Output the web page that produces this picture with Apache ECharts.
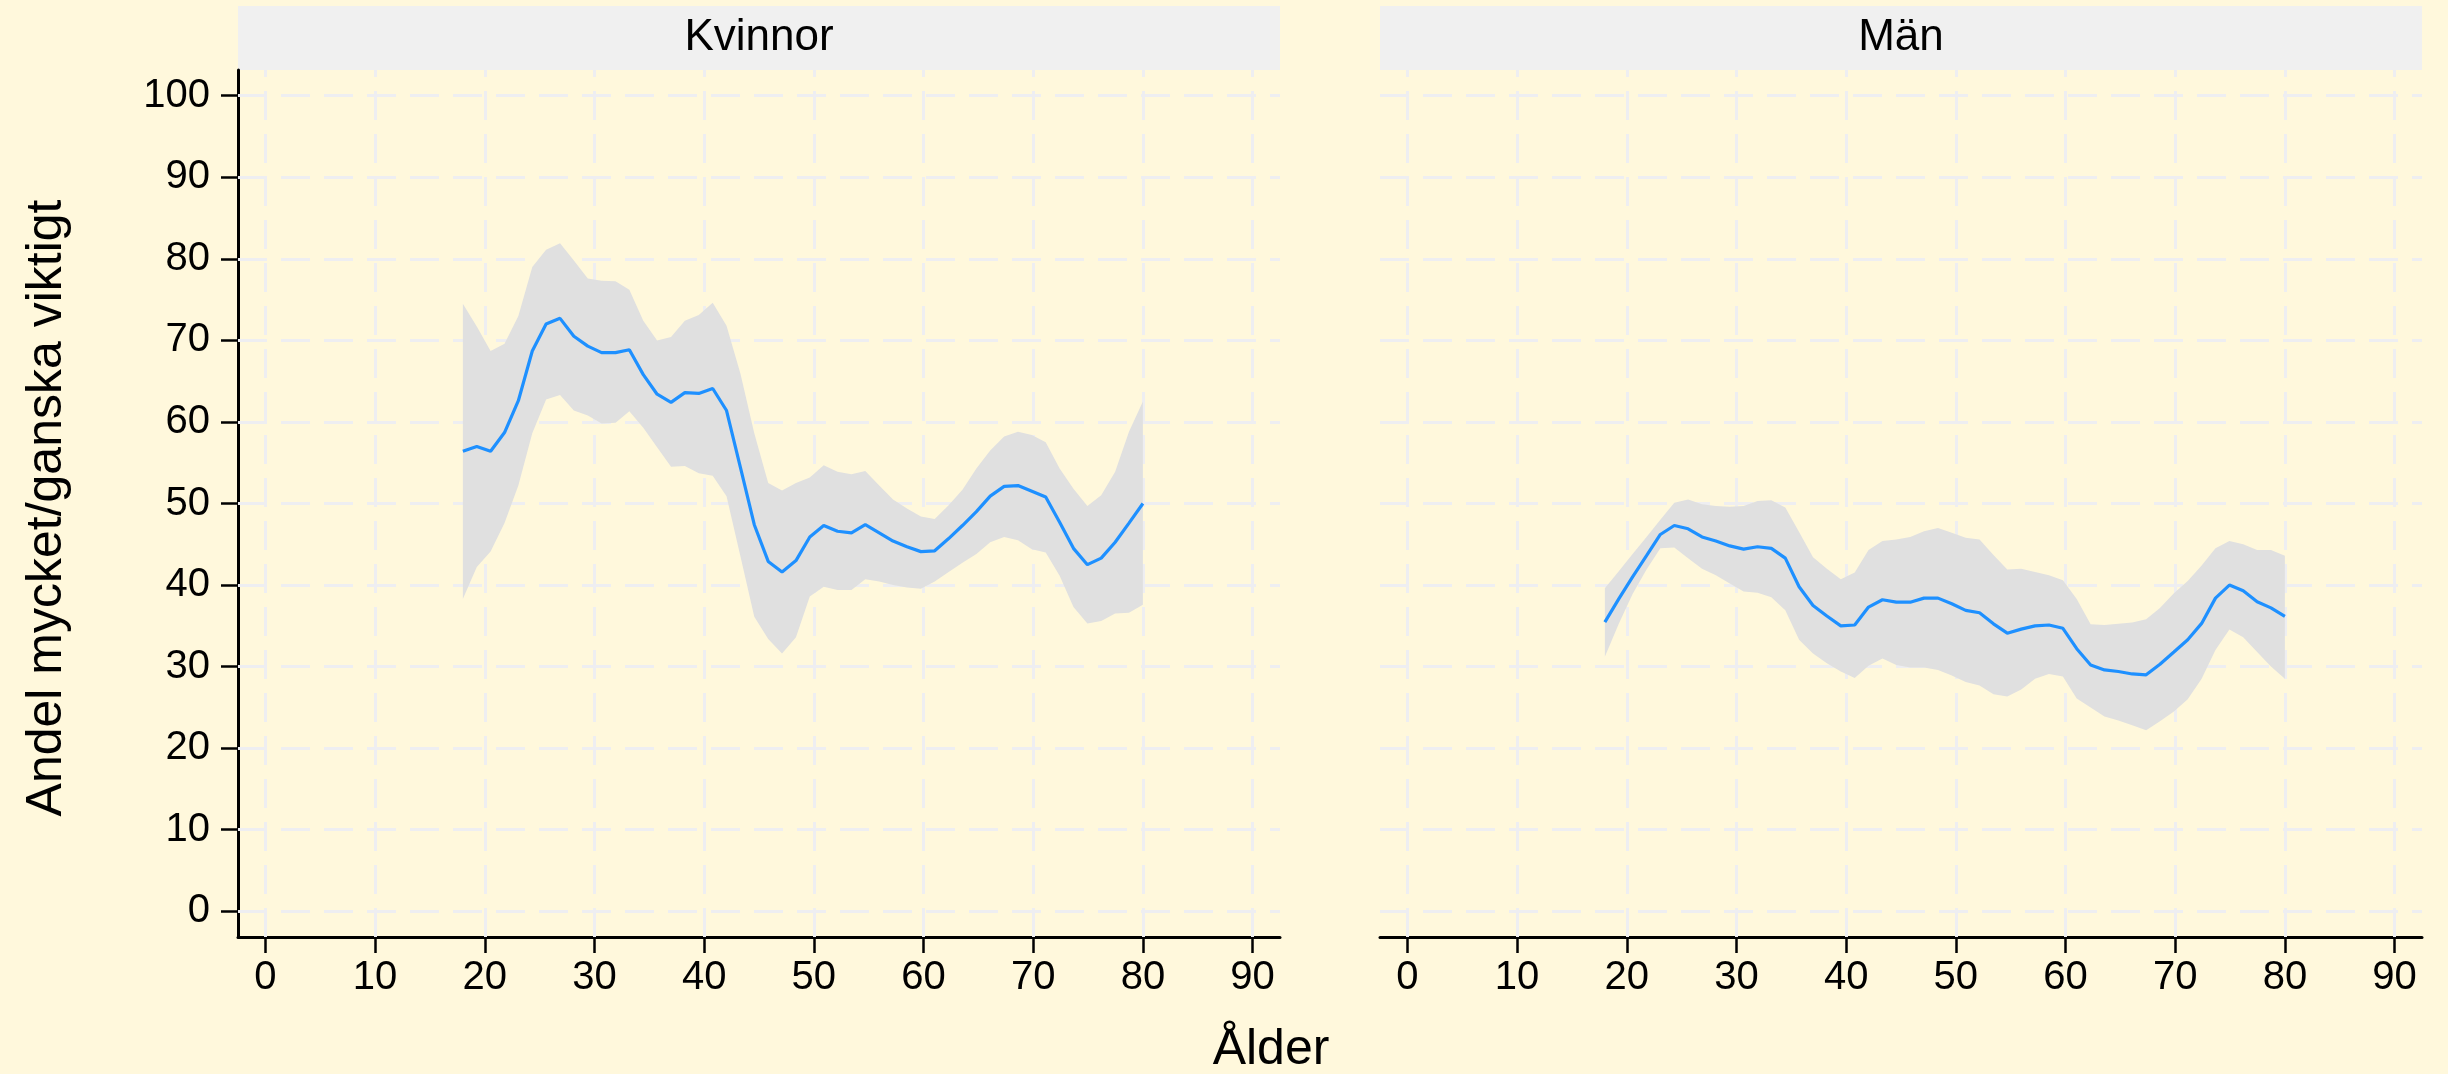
<!DOCTYPE html>
<html>
<head>
<meta charset="utf-8">
<title>Andel mycket/ganska viktigt</title>
<script src="https://cdn.jsdelivr.net/npm/echarts@6/dist/echarts.min.js"></script>
<style>
  html, body { margin: 0; padding: 0; background: #FFF8DC; }
  #main { width: 2448px; height: 1074px; }
</style>
</head>
<body>
<div id="main"></div>
<script>
// ages where the smooth was evaluated
var ages = [18.00, 19.27, 20.53, 21.80, 23.06, 24.33, 25.59, 26.86, 28.12, 29.39,
            30.65, 31.92, 33.18, 34.45, 35.71, 36.98, 38.24, 39.51, 40.78, 42.04,
            43.31, 44.57, 45.84, 47.10, 48.37, 49.63, 50.90, 52.16, 53.43, 54.69,
            55.96, 57.22, 58.49, 59.76, 61.02, 62.29, 63.55, 64.82, 66.08, 67.35,
            68.61, 69.88, 71.14, 72.41, 73.67, 74.94, 76.20, 77.47, 78.73, 80.00];

// Kvinnor
var kvMean = [56.4, 57.0, 56.4, 58.7, 62.6, 68.7, 72.0, 72.7, 70.5, 69.3,
              68.5, 68.5, 68.85, 65.8, 63.4, 62.4, 63.6, 63.5, 64.1, 61.4,
              54.4, 47.4, 42.9, 41.6, 43.0, 45.9, 47.3, 46.6, 46.4, 47.4,
              46.4, 45.4, 44.7, 44.1, 44.2, 45.7, 47.3, 49.0, 50.9, 52.1,
              52.2, 51.5, 50.8, 47.7, 44.5, 42.5, 43.3, 45.25, 47.6, 50.0];
var kvHigh = [74.5, 71.7, 68.7, 69.6, 73.0, 79.0, 81.1, 81.9, 79.8, 77.6,
              77.3, 77.25, 76.2, 72.4, 70.0, 70.4, 72.4, 73.1, 74.6, 71.8,
              65.9, 58.6, 52.5, 51.6, 52.5, 53.2, 54.7, 53.9, 53.6, 54.0,
              52.2, 50.5, 49.4, 48.4, 48.1, 49.8, 51.7, 54.3, 56.5, 58.2,
              58.8, 58.4, 57.5, 54.3, 51.8, 49.7, 51.0, 53.9, 58.8, 62.5];
var kvLow = [38.3, 42.2, 44.1, 47.6, 52.2, 58.6, 62.75, 63.3, 61.4, 60.8,
             59.8, 59.9, 61.3, 59.3, 56.9, 54.5, 54.6, 53.7, 53.4, 50.9,
             43.5, 36.1, 33.4, 31.6, 33.6, 38.6, 39.8, 39.4, 39.4, 40.7,
             40.45, 40.0, 39.7, 39.55, 40.45, 41.6, 42.75, 43.8, 45.25, 45.9,
             45.5, 44.4, 44.0, 41.15, 37.3, 35.3, 35.6, 36.5, 36.6, 37.6];

// Män
var manMean = [35.45, 38.3, 41.0, 43.6, 46.2, 47.3, 46.9, 45.9, 45.4, 44.8,
               44.4, 44.7, 44.5, 43.3, 39.8, 37.5, 36.2, 35.0, 35.1, 37.3,
               38.2, 37.9, 37.9, 38.4, 38.4, 37.7, 36.9, 36.6, 35.25, 34.1,
               34.6, 35.0, 35.1, 34.7, 32.2, 30.2, 29.6, 29.4, 29.1, 29.0,
               30.3, 31.8, 33.3, 35.3, 38.4, 40.0, 39.3, 37.95, 37.2, 36.15];
var manHigh = [39.6, 41.7, 43.8, 45.9, 48.0, 50.1, 50.5, 49.9, 49.7, 49.6,
               49.7, 50.3, 50.4, 49.5, 46.5, 43.4, 42.0, 40.7, 41.55, 44.3,
               45.4, 45.6, 45.9, 46.6, 47.0, 46.4, 45.8, 45.6, 43.7, 41.9,
               42.0, 41.6, 41.2, 40.6, 38.3, 35.2, 35.1, 35.25, 35.4, 35.8,
               37.2, 39.0, 40.5, 42.4, 44.5, 45.4, 45.0, 44.3, 44.3, 43.6];
var manLow = [31.2, 35.25, 38.9, 41.9, 44.5, 44.6, 43.3, 42.0, 41.2, 40.2,
              39.2, 39.05, 38.5, 36.9, 33.3, 31.6, 30.4, 29.4, 28.6, 30.1,
              31.0, 30.2, 29.9, 29.9, 29.6, 28.9, 28.1, 27.7, 26.6, 26.35,
              27.2, 28.5, 29.1, 28.8, 26.1, 25.0, 23.9, 23.4, 22.8, 22.2,
              23.3, 24.5, 26.0, 28.5, 32.05, 34.55, 33.6, 31.8, 30.0, 28.5];

var xTicks = [0, 10, 20, 30, 40, 50, 60, 70, 80, 90];
var yTicks = [0, 10, 20, 30, 40, 50, 60, 70, 80, 90, 100];
var panelNames = ['Kvinnor', 'Män'];

var font = "'Liberation Sans', Arial, sans-serif";
var bg = '#FFF8DC';
var gridColor = '#EEEEF1';
var bandColor = '#E0E0E0';
var lineColor = '#1E90FF';

// panel frame (full plot area incl. expansion) and the axis ranges
var frameTop = 70, frameH = 867, frameW = 1042;
var frameLefts = [238, 1380];
var xMin = -2.5, xMax = 92.5, yMin = -3.15, yMax = 103.15;
var pxX = frameW / (xMax - xMin), pxY = frameH / (yMax - yMin);

var grids = [], xAxes = [], yAxes = [], series = [], graphics = [];

function bandItem(lo, hi) {
    return function (params, api) {
        if (params.dataIndex !== 0) return null;
        var pts = [];
        for (var i = 0; i < ages.length; i++) pts.push(api.coord([ages[i], hi[i]]));
        for (var j = ages.length - 1; j >= 0; j--) pts.push(api.coord([ages[j], lo[j]]));
        return { type: 'polygon', shape: { points: pts }, style: { fill: bandColor } };
    };
}

var panels = [
    { mean: kvMean, low: kvLow, high: kvHigh },
    { mean: manMean, low: manLow, high: manHigh }
];

panels.forEach(function (p, k) {
    var left = frameLefts[k];
    var fi = grids.length;      // frame grid
    grids.push({ left: left, top: frameTop, width: frameW, height: frameH });
    var ti = grids.length;      // tick grid, exactly 0..90 x 0..100
    var tLeft = left + (0 - xMin) * pxX;
    var tTop = frameTop + (yMax - 100) * pxY;
    grids.push({ left: tLeft, top: tTop, width: 90 * pxX, height: 100 * pxY });

    xAxes.push({
        gridIndex: fi, type: 'value', min: xMin, max: xMax,
        axisLine: { show: true, onZero: false, lineStyle: { color: '#000', width: 3 } },
        axisTick: { show: false }, axisLabel: { show: false }, splitLine: { show: false }
    });
    xAxes.push({
        gridIndex: ti, type: 'value', min: 0, max: 90, interval: 10,
        offset: frameTop + frameH - (tTop + 100 * pxY),
        axisLine: { show: false, onZero: false },
        axisTick: { show: true, length: 16, lineStyle: { color: '#000', width: 2.5 } },
        axisLabel: { show: true, margin: 21, color: '#000', fontSize: 40, fontFamily: font },
        splitLine: { show: false }
    });
    yAxes.push({
        gridIndex: fi, type: 'value', min: yMin, max: yMax,
        axisLine: { show: k === 0, onZero: false, lineStyle: { color: '#000', width: 3 } },
        axisTick: { show: false }, axisLabel: { show: false }, splitLine: { show: false }
    });
    yAxes.push({
        gridIndex: ti, type: 'value', min: 0, max: 100, interval: 10,
        show: k === 0,
        offset: tLeft - left,
        axisLine: { show: false, onZero: false },
        axisTick: { show: true, length: 17, lineStyle: { color: '#000', width: 2.5 } },
        axisLabel: { show: true, margin: 28, color: '#000', fontSize: 40, fontFamily: font },
        splitLine: { show: false }
    });

    var xa = xAxes.length - 2, ya = yAxes.length - 2;

    // dashed background grid
    series.push({
        type: 'line', xAxisIndex: xa, yAxisIndex: ya, z: 1,
        data: [[ages[0], p.mean[0]]], showSymbol: false, lineStyle: { opacity: 0 },
        silent: true,
        markLine: {
            z: 1, silent: true, symbol: ['none', 'none'], label: { show: false },
            lineStyle: { color: gridColor, width: 3, type: [29, 14] },
            emphasis: { disabled: true },
            data: yTicks.map(function (v) { return { yAxis: v }; })
                .concat(xTicks.map(function (v) { return { xAxis: v }; }))
        }
    });
    // confidence band
    series.push({
        type: 'custom', xAxisIndex: xa, yAxisIndex: ya, z: 2,
        renderItem: bandItem(p.low, p.high),
        data: ages.map(function (a, i) { return [a, p.low[i], p.high[i]]; }),
        encode: { x: 0, y: [1, 2] }, silent: true
    });
    // smooth
    series.push({
        type: 'line', xAxisIndex: xa, yAxisIndex: ya, z: 3,
        data: ages.map(function (a, i) { return [a, p.mean[i]]; }),
        showSymbol: false, lineStyle: { color: lineColor, width: 3.2 }
    });

    // facet strip
    graphics.push({
        type: 'rect', shape: { x: left, y: 6, width: frameW, height: 64 },
        style: { fill: '#F0F0F0' }, z: 0
    });
    graphics.push({
        type: 'text', x: left + frameW / 2, y: 38,
        style: { text: panelNames[k], fill: '#000', font: '44px ' + font,
                 textAlign: 'center', textVerticalAlign: 'middle' }
    });
});

graphics.push({
    type: 'text', x: 1271, y: 1050,
    style: { text: 'Ålder', fill: '#000', font: '50px ' + font,
             textAlign: 'center', textVerticalAlign: 'middle' }
});
graphics.push({
    type: 'text', x: 47, y: 508, rotation: Math.PI / 2,
    style: { text: 'Andel mycket/ganska viktigt', fill: '#000', font: '50px ' + font,
             textAlign: 'center', textVerticalAlign: 'middle' }
});

var myChart = echarts.init(document.getElementById('main'));
var option = {
    backgroundColor: bg,
    animation: false,
    grid: grids,
    xAxis: xAxes,
    yAxis: yAxes,
    series: series,
    graphic: graphics
};
myChart.setOption(option);
</script>
</body>
</html>
